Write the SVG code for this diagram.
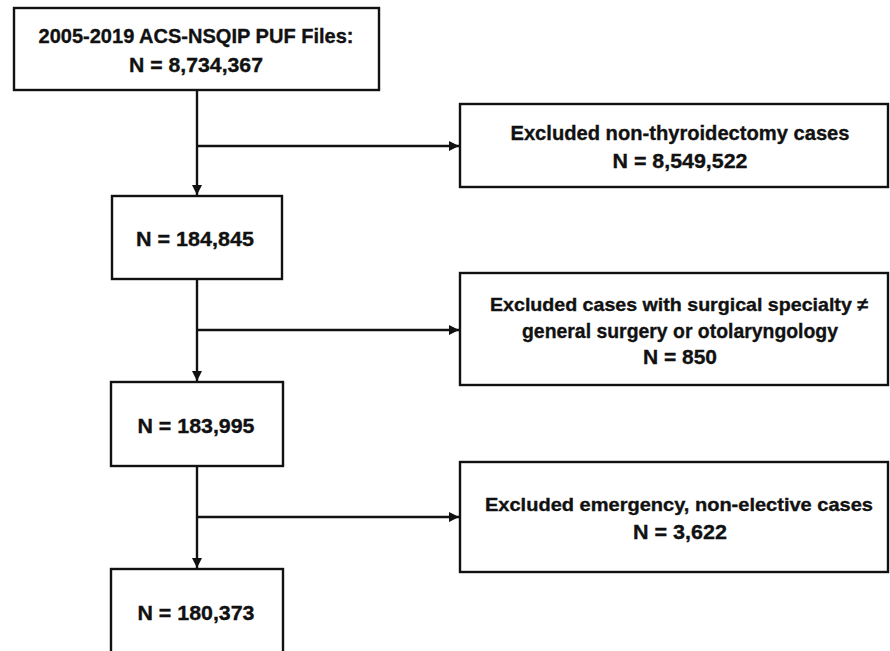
<svg xmlns="http://www.w3.org/2000/svg" width="890" height="651" viewBox="0 0 890 651">
<style>
.box{fill:#fff;stroke:#111;stroke-width:2.4}
.t{font-family:"Liberation Sans",Arial,sans-serif;font-weight:bold;font-size:21px;fill:#111;stroke:#111;stroke-width:0.35;text-anchor:middle}
.s{font-size:18.5px}
.c{stroke:#111;stroke-width:2.4;fill:none}
</style>
<defs>
<marker id="ah" viewBox="0 0 10 10" refX="10" refY="5" markerWidth="10" markerHeight="10" markerUnits="userSpaceOnUse" orient="auto">
<path d="M0,0 L10,5 L0,10 z" fill="#111"/>
</marker>
</defs>
<rect width="890" height="651" fill="#fff"/>
<g id="connectors">
<line class="c" x1="197" y1="90" x2="197" y2="195" marker-end="url(#ah)"/>
<line class="c" x1="197" y1="146" x2="459" y2="146" marker-end="url(#ah)"/>
<line class="c" x1="197" y1="279" x2="197" y2="381" marker-end="url(#ah)"/>
<line class="c" x1="197" y1="330" x2="459" y2="330" marker-end="url(#ah)"/>
<line class="c" x1="197" y1="466" x2="197" y2="568" marker-end="url(#ah)"/>
<line class="c" x1="197" y1="517" x2="459" y2="517" marker-end="url(#ah)"/>
</g>
<g id="n1">
<rect class="box" x="14" y="8" width="365" height="82"/>
<text class="t" x="196" y="43" textLength="315" lengthAdjust="spacingAndGlyphs">2005-2019 ACS-NSQIP PUF Files:</text>
<text class="t" x="196" y="72" textLength="134" lengthAdjust="spacingAndGlyphs">N = 8,734,367</text>
</g>
<g id="e1">
<rect class="box" x="460" y="104" width="428" height="83"/>
<text class="t" x="680" y="140" textLength="339" lengthAdjust="spacingAndGlyphs">Excluded non-thyroidectomy cases</text>
<text class="t" x="680" y="168" textLength="135" lengthAdjust="spacingAndGlyphs">N = 8,549,522</text>
</g>
<g id="n2">
<rect class="box" x="112" y="196" width="170" height="83"/>
<text class="t" x="195" y="246" textLength="118" lengthAdjust="spacingAndGlyphs">N = 184,845</text>
</g>
<g id="e2">
<rect class="box" x="460" y="273" width="428" height="112"/>
<text class="t s" x="679" y="311" textLength="378" lengthAdjust="spacingAndGlyphs">Excluded cases with surgical specialty ≠</text>
<text class="t" x="680" y="338" textLength="316" lengthAdjust="spacingAndGlyphs">general surgery or otolaryngology</text>
<text class="t" x="680" y="364" textLength="74" lengthAdjust="spacingAndGlyphs">N = 850</text>
</g>
<g id="n3">
<rect class="box" x="111" y="382" width="172" height="84"/>
<text class="t" x="196" y="433" textLength="117" lengthAdjust="spacingAndGlyphs">N = 183,995</text>
</g>
<g id="e3">
<rect class="box" x="460" y="462" width="428" height="110"/>
<text class="t s" x="679" y="511" textLength="388" lengthAdjust="spacingAndGlyphs">Excluded emergency, non-elective cases</text>
<text class="t" x="680" y="539" textLength="94" lengthAdjust="spacingAndGlyphs">N = 3,622</text>
</g>
<g id="n4">
<rect class="box" x="111" y="569" width="172" height="100"/>
<text class="t" x="196" y="620" textLength="117" lengthAdjust="spacingAndGlyphs">N = 180,373</text>
</g>
</svg>
